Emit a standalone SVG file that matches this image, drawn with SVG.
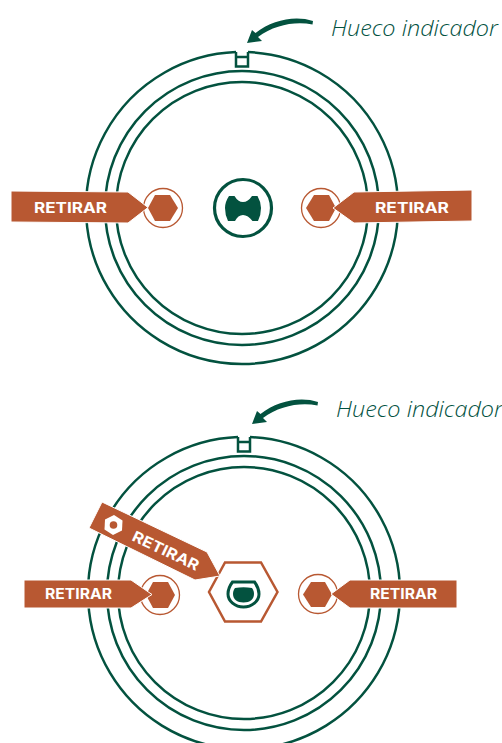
<svg xmlns="http://www.w3.org/2000/svg" width="502" height="743" viewBox="0 0 502 743">
<style>
.g{fill:none;stroke:#03523f;stroke-width:2.500}
.gf{fill:#03523f}
.o{fill:#b85832}
.oc{fill:#fff;stroke:#b85832;stroke-width:1.300}
.ol{font:700 15px "Inter","Liberation Sans",sans-serif;fill:#fff}
.ols{font:700 14px "Inter","Liberation Sans",sans-serif;fill:#fff}
.h{font:italic 300 22px "Open Sans","Liberation Sans",sans-serif;fill:#03523f}
</style>
<defs>
<path id="pointer" d="M313 21C295 15 272 20 255.500 33L252 30L247 43L262 41L258 37C274 25 295 21 312.500 24.500Z"/>
</defs>
<g id="ring-top">
<path class="g" d="M236 52.100A156 156 0 1 0 248 52.100"/>
<path class="g" d="M236 52V66.500H248V52M236 57H248"/>
<circle class="g" cx="242" cy="208" r="137"/>
<circle class="g" cx="242" cy="208" r="126"/>
</g>
<g id="ring-bottom">
<path class="g" d="M238 437.100A156 156 0 1 0 250 437.100"/>
<path class="g" d="M238 437V451.500H250V437M238 442H250"/>
<circle class="g" cx="244" cy="593" r="137"/>
<circle class="g" cx="244" cy="593" r="126"/>
</g>
<g id="connectors">
<use href="#pointer" class="gf"/>
<use href="#pointer" class="gf" x="5" y="381"/>
</g>
<g id="label-top"><text class="h" x="331" y="36" textLength="167" lengthAdjust="spacingAndGlyphs">Hueco indicador</text></g>
<g id="label-bottom"><text class="h" x="336" y="417" textLength="167" lengthAdjust="spacingAndGlyphs">Hueco indicador</text></g>
<g id="center-top">
<circle class="g" style="stroke-width:3.200" cx="243" cy="208" r="28.500"/>
<path class="gf" d="M229 196H234.500Q238 202 243 202Q248 202 252 196H257.500Q261 202 261 208Q261 215 258 221H252.500Q248 215 243 215Q238 215 235 221H228Q225 215 225 208Q225 202 229 196Z"/>
</g>
<g id="bolt-top-left">
<circle class="oc" cx="163" cy="208" r="19.500"/>
<polygon class="o" points="155,195 170,195 178,208 170,221 155,221 148,208"/>
</g>
<g id="tag-top-left">
<polygon class="o" points="11,191 128,192 148,207.500 128,223 11,222" stroke="#fff" stroke-width="1"/>
<text class="ol" x="34" y="213" textLength="73" lengthAdjust="spacingAndGlyphs">RETIRAR</text>
</g>
<g id="bolt-top-right">
<circle class="oc" cx="321" cy="208" r="19.500"/>
<polygon class="o" points="314,195 329,195 336,208 329,221 314,221 306,208"/>
</g>
<g id="tag-top-right">
<polygon class="o" points="333,208 354,192 472,190 472,221 354,223" stroke="#fff" stroke-width="1"/>
<text class="ol" x="375" y="213" textLength="74" lengthAdjust="spacingAndGlyphs">RETIRAR</text>
</g>
<g id="bolt-bottom-left">
<circle class="oc" cx="160" cy="595" r="19.500"/>
<polygon class="o" points="153,582 168,582 175,595 168,608 153,608 146,595"/>
</g>
<g id="tag-bottom-left">
<polygon class="o" points="24,580 131,580 152,594.500 131,608 24,608" stroke="#fff" stroke-width="1"/>
<text class="ols" x="45" y="599" textLength="67" lengthAdjust="spacingAndGlyphs">RETIRAR</text>
</g>
<g id="bolt-bottom-right">
<circle class="oc" cx="318" cy="594" r="19.500"/>
<polygon class="o" points="311,582 325,582 332,594.500 325,607 311,607 303,594.500"/>
</g>
<g id="tag-bottom-right">
<polygon class="o" points="331,594 350,580 457,580 457,608 350,608" stroke="#fff" stroke-width="1"/>
<text class="ols" x="370" y="599" textLength="67" lengthAdjust="spacingAndGlyphs">RETIRAR</text>
</g>
<g id="center-bottom">
<polygon points="225,562.500 261,562.500 277.500,592 261,621.500 225,621.500 209,592" fill="#fff" stroke="#b85832" stroke-width="2.500"/>
<path class="g" style="stroke-width:3" d="M232.500 582H254.500C257.500 586 259 590 259 594C259 601 252 607 243.500 607C235 607 228 601 228 594C228 590 229.500 586 232.500 582Z"/>
<path class="gf" d="M235 588Q243.500 586.500 252 588C253.500 590 254 592 254 594C254 599 250 602.500 243.500 602.500C237 602.500 233 599 233 594C233 592 233.500 590 235 588Z"/>
</g>
<g id="tag-diagonal">
<polygon class="o" points="102,502 207,552 220,576 195,580 89,528" stroke="#fff" stroke-width="1"/>
<polygon fill="#fff" points="114,515 122.500,520.500 122,530.500 113,535 104.500,529.500 105,519.500"/>
<circle class="o" cx="113.500" cy="525" r="3.800"/>
<text class="ol" transform="translate(131 540) rotate(25.500)" textLength="72" lengthAdjust="spacingAndGlyphs">RETIRAR</text>
</g>
</svg>
